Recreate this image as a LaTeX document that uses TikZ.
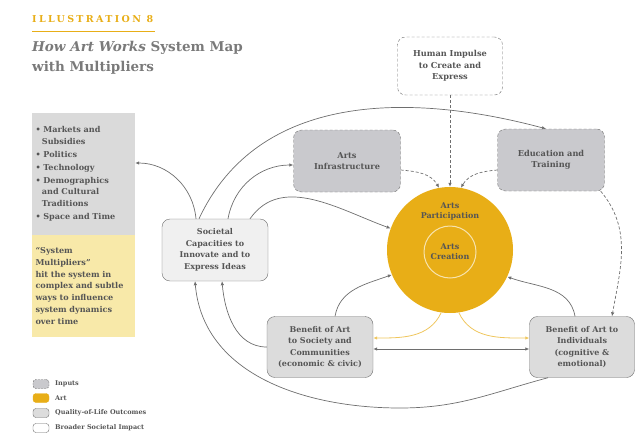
\documentclass[tikz,border=0pt]{standalone}
\usepackage{fontspec}
\setmainfont{DejaVu Serif}
\usetikzlibrary{arrows.meta}
\definecolor{artgold}{HTML}{E8AE17}
\definecolor{inputgrey}{HTML}{C9C9CD}
\definecolor{outcomegrey}{HTML}{DCDCDC}
\definecolor{impactgrey}{HTML}{F0F0F0}
\definecolor{factgrey}{HTML}{DADADA}
\definecolor{multyellow}{HTML}{F8E9A9}
\definecolor{textgrey}{HTML}{555555}
\definecolor{titlegrey}{HTML}{7A7A7A}
\definecolor{linegrey}{HTML}{6E6E6E}
\begin{document}
\begin{tikzpicture}[x=1pt,y=-1pt]
      % Define styles for nodes
      \tikzstyle{inputbox} = [draw=linegrey, dash pattern=on 3pt off 2pt,
      rounded corners=8pt, fill=inputgrey, minimum width=107pt,
      minimum height=62pt, align=center, text=textgrey,
      font=\fontsize{8.2}{11.5}\bfseries]
      \tikzstyle{outcomebox} = [draw=linegrey, rounded corners=8pt,
      fill=outcomegrey, minimum width=106pt, minimum height=61pt,
      align=center, text=textgrey, font=\fontsize{8}{11.5}\bfseries]
      \tikzstyle{sidebox} = [rectangle, minimum width=103pt, text width=96pt,
      inner xsep=3.5pt, align=left, text=textgrey,
      font=\fontsize{8.1}{11.8}\bfseries]
      \tikzstyle{legicon} = [draw=linegrey, rounded corners=3pt,
      minimum width=16pt, minimum height=9pt, inner sep=0pt]
      \tikzstyle{legtext} = [anchor=west, text=textgrey, inner sep=0pt,
      font=\fontsize{6.5}{7}\bfseries]
      \tikzstyle{link} = [draw=linegrey, line width=0.7pt,
      -{Latex[length=4pt,width=3.5pt]}]
      \tikzstyle{dashlink} = [link, dash pattern=on 3pt off 2pt]
      \tikzstyle{artlink} = [draw=artgold!70, line width=0.8pt,
      -{Latex[length=4pt,width=3.5pt]}]

      \useasboundingbox (0,0) rectangle (636,436);

      % Title at top
      \node[anchor=west, text=artgold, inner sep=0pt,
      font=\fontsize{9.5}{10}\bfseries\addfontfeature{LetterSpace=25}]
      (label) at (32,19) {ILLUSTRATION 8};
      \draw[artgold, line width=0.8pt] (32,31) -- (155,31);
      \node[anchor=north west, text=titlegrey, align=left, inner sep=0pt,
      font=\fontsize{13.5}{20}\bfseries] (title) at (32,41)
      {\textit{How Art Works} System Map\\with Multipliers};

      % Multipliers at left
      \node[sidebox, fill=factgrey, minimum height=122pt] (factors)
      at (83.5,174) {\textbullet\ Markets and\\\hspace*{0.8em}Subsidies\\[1pt]
      \textbullet\ Politics\\[1pt] \textbullet\ Technology\\[1pt]
      \textbullet\ Demographics\\\hspace*{0.8em}and Cultural\\
      \hspace*{0.8em}Traditions\\[1pt] \textbullet\ Space and Time};
      \node[sidebox, fill=multyellow, minimum height=102pt] (multipliers)
      at (83.5,286) {``System\\Multipliers''\\hit the system in\\
      complex and subtle\\ways to influence\\system dynamics\\over time};

      % Inputs
      \node[inputbox, fill=white, minimum width=105pt, minimum height=58pt]
      (impulse) at (450,66) {Human Impulse\\to Create and\\Express};
      \node[inputbox] (infra) at (347,161) {Arts\\Infrastructure};
      \node[inputbox] (edu) at (551,160) {Education and\\Training};

      % Art
      \node[circle, fill=artgold, minimum size=126pt] (part) at (450,250) {};
      \node[align=center, text=textgrey, font=\fontsize{8}{10}\bfseries]
      (parttext) at (450,211) {Arts\\Participation};
      \node[circle, draw=white!65!artgold, line width=1pt, minimum size=52pt,
      align=center, text=textgrey, inner sep=0pt,
      font=\fontsize{8}{10}\bfseries] (creation) at (450,252)
      {Arts\\Creation};

      % Outcomes and impact
      \node[outcomebox] (bsoc) at (320,347)
      {Benefit of Art\\to Society and\\Communities\\(economic \& civic)};
      \node[outcomebox, minimum width=105pt] (bind) at (582,347)
      {Benefit of Art to\\Individuals\\(cognitive \&\\emotional)};
      \node[outcomebox, fill=impactgrey, minimum height=62pt] (soc)
      at (215,250) {Societal\\Capacities to\\Innovate and to\\Express Ideas};

      % Connections
      \coordinate (lowpoint) at (400,408);
      \draw[link] ([xshift=-19pt]soc.north) to[out=95,in=0]
      ([yshift=11pt]factors.east);
      \draw[link] ([xshift=13pt]soc.north) to[out=80,in=180]
      ([yshift=-4pt]infra.west);
      \draw[link] ([xshift=-16pt]soc.north) to[out=65,in=165]
      ([xshift=-5pt]edu.north);
      \draw[link] ([xshift=35pt]soc.north) to[out=55,in=160] (part.160);
      \draw[dashlink] (impulse.south) -- (part.north);
      \draw[dashlink] ([yshift=-9pt]infra.east) to[out=-5,in=120] (part.100);
      \draw[dashlink] ([yshift=-10pt]edu.west) to[out=185,in=60] (part.80);
      \draw[dashlink] ([xshift=-4pt]edu.south east) to[out=-50,in=80]
      ([xshift=30pt]bind.north);
      \draw[link] ([xshift=15pt]bsoc.north) to[out=80,in=200] (part.203);
      \draw[link] ([xshift=-7pt]bind.north) to[out=100,in=-20] (part.-25);
      \draw[artlink] (part.-98) to[out=245,in=0] ([yshift=9pt]bsoc.east);
      \draw[artlink] (part.-82) to[out=-65,in=180] ([yshift=9pt]bind.west);
      \draw[link, {Latex[length=4pt,width=3.5pt]}-{Latex[length=4pt,width=3.5pt]}]
      ([yshift=-2pt]bsoc.east) -- ([yshift=-2pt]bind.west);
      \draw[link] (bsoc.west) to[out=180,in=-85] ([xshift=7pt]soc.south);
      \draw[link] ([xshift=-34pt]bind.south) to[out=195,in=0] (lowpoint)
      to[out=180,in=-85] ([xshift=-20pt]soc.south);

      % Legend at bottom
      \node[legicon, fill=inputgrey, dash pattern=on 2pt off 1pt] (leginput)
      at (41,384) {};
      \node[legtext] (leginputtext) at (55,384) {Inputs};
      \node[legicon, fill=artgold, draw=artgold] (legart) at (41,398) {};
      \node[legtext] (legarttext) at (55,398) {Art};
      \node[legicon, fill=outcomegrey] (legoutcome) at (41,413) {};
      \node[legtext] (legoutcometext) at (55,413) {Quality-of-Life Outcomes};
      \node[legicon, fill=white] (legimpact) at (41,428) {};
      \node[legtext] (legimpacttext) at (55,428) {Broader Societal Impact};

    \end{tikzpicture}
\end{document}
